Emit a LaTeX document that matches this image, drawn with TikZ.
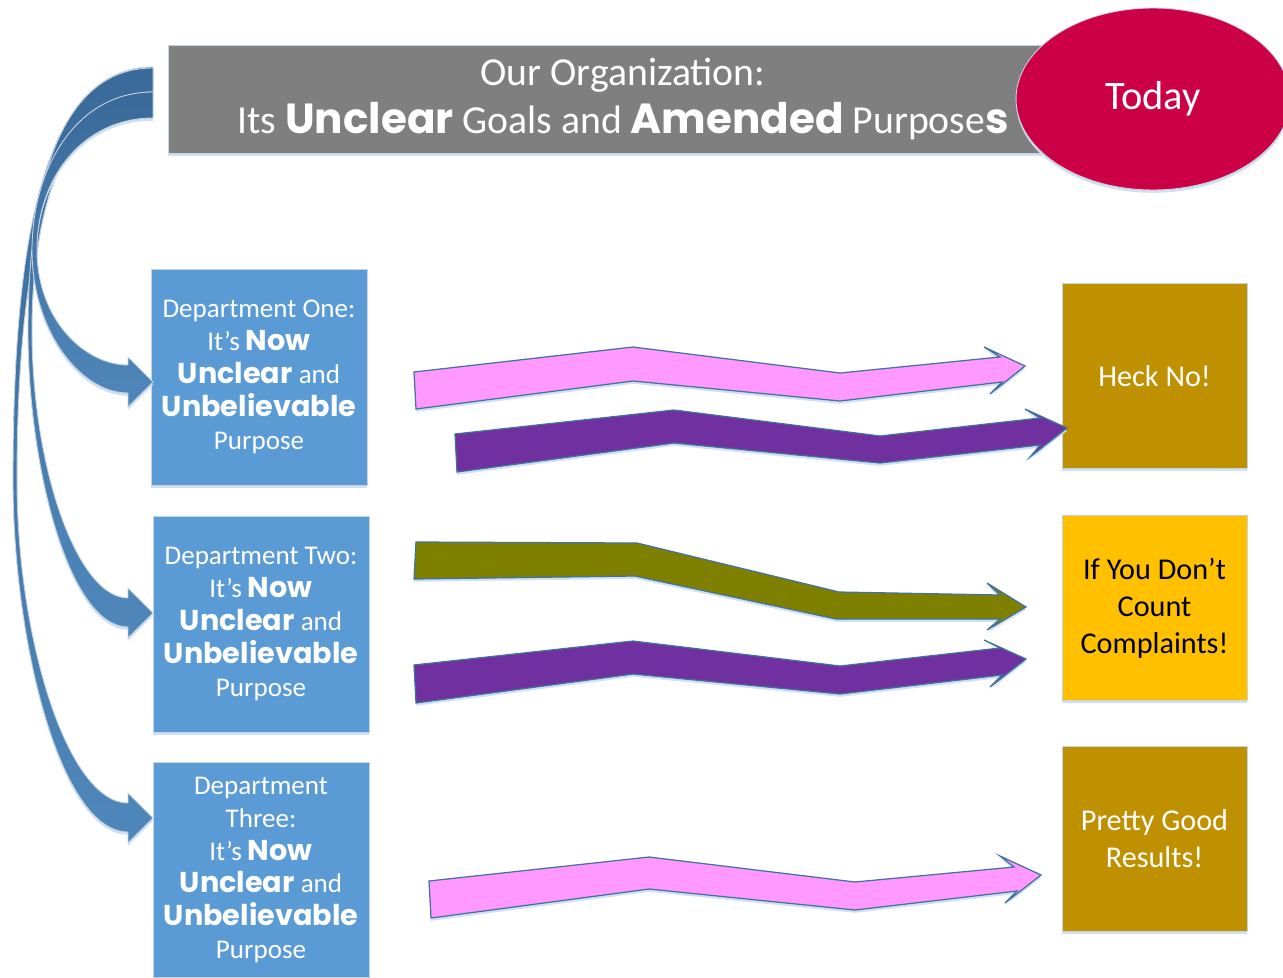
\documentclass[tikz,border=0pt]{standalone}
\usepackage{fontspec}
\setmainfont{Carlito}
\newfontfamily\snapfont{Poppins}[Scale=1.06]
\usetikzlibrary{shapes.geometric, shadows}
\definecolor{cdept}{HTML}{5B9BD5}
\definecolor{cgold}{HTML}{BF9000}
\definecolor{camber}{HTML}{FFC000}
\definecolor{cgrey}{HTML}{7F7F7F}
\definecolor{ccrimson}{HTML}{CC0044}
\definecolor{cpink}{HTML}{FF99FF}
\definecolor{cpurple}{HTML}{7030A0}
\definecolor{colive}{HTML}{808000}
\definecolor{cedge}{HTML}{41719C}
\definecolor{cframe}{HTML}{C5D3E2}
\definecolor{cshadow}{HTML}{CFE0F1}
\definecolor{ccurltop}{HTML}{3A6A99}
\definecolor{ccurlbot}{HTML}{4F87BA}
\newcommand{\fancy}[1]{{\snapfont\bfseries #1}}
\tikzset{
  lift/.style={general shadow={fill=cshadow, shadow yshift=-1.6pt}},
  banner/.style={rectangle, fill=cgrey, draw=cframe, line width=0.5pt, lift, text=white, align=center,
    minimum width=18.2cm, minimum height=2.16cm, inner sep=0pt, font=\fontsize{22.6}{27.2}\selectfont},
  dept/.style={rectangle, fill=cdept, draw=cframe, line width=0.5pt, lift, text=white, align=center,
    minimum width=4.32cm, minimum height=4.32cm, inner sep=0pt, font=\fontsize{15.4}{18.7}\selectfont},
  outcome/.style={rectangle, fill=#1, draw=cframe, line width=0.5pt, lift, text=white, align=center,
    minimum width=3.7cm, minimum height=3.7cm, inner sep=0pt, font=\fontsize{17.2}{21}\selectfont},
  outcome/.default=cgold,
  zig/.style={fill=#1, draw=cedge, line width=0.7pt, line join=miter, lift},
  curl/.style={top color=ccurltop, bottom color=ccurlbot, draw=cframe, line width=0.5pt, lift},
}

\begin{document}
\begin{tikzpicture}[x=0.02cm, y=-0.02cm]
  \useasboundingbox (0,0) rectangle (1283,977);

  % header band and the "today" badge over its right end
  \node[banner] (org) at (623,99) {Our Organization:\\Its \fancy{Unclear} Goals and \fancy{Amended} Purpose\fancy{s}};
  \node[ellipse, fill=ccrimson, draw=cframe, line width=0.5pt, lift, minimum width=5.48cm, minimum height=3.64cm,
    inner sep=0pt, text=white, font=\fontsize{23}{27}\selectfont] (today) at (1153,99) {Today};

  % departments
  \node[dept] (d1) at (259,377) {Department One:\\It’s \fancy{Now}\\\fancy{Unclear} and\\\fancy{Unbelievable}\\Purpose};
  \node[dept] (d2) at (261,624) {Department Two:\\It’s \fancy{Now}\\\fancy{Unclear} and\\\fancy{Unbelievable}\\Purpose};
  \node[dept, minimum height=4.3cm] (d3) at (261,870) {Department\\Three:\\It’s \fancy{Now}\\\fancy{Unclear} and\\\fancy{Unbelievable}\\Purpose};

  % outcomes
  \node[outcome] (heck) at (1154.5,376) {Heck No!};
  \node[outcome=camber, text=black] (count) at (1154.5,608) {If You Don’t\\Count\\Complaints!};
  \node[outcome] (good) at (1154.5,839) {Pretty Good\\Results!};

  % curved block arrows from the header down to each department
  \path[curl] (153,67) .. controls (40,67) and (13,250) .. (13,480) .. controls (13,640) and (60,832) .. (128,832)
    -- (128,843) -- (153,818) -- (128,793) -- (128,803)
    .. controls (68,803) and (17,640) .. (17,480) .. controls (17,260) and (50,92) .. (153,92) -- cycle;
  \path[curl] (153,68) .. controls (55,68) and (28,200) .. (28,330) .. controls (28,470) and (70,627) .. (128,627)
    -- (128,638) -- (153,613) -- (128,588) -- (128,598)
    .. controls (78,598) and (32,470) .. (32,330) .. controls (32,200) and (70,92) .. (153,92) -- cycle;
  \path[curl] (153,92) .. controls (75,92) and (32,170) .. (32,250) .. controls (32,330) and (80,393) .. (128,393)
    -- (128,407) -- (153,382) -- (128,357) -- (128,365)
    .. controls (85,365) and (37,320) .. (37,250) .. controls (37,175) and (85,118) .. (153,118) -- cycle;

  % zigzag arrows towards the outcomes
  \path[zig=cpink] (414,372) -- (633,347) -- (840,373) -- (1000,357) -- (984,347) -- (1025,366)
    -- (990,394) -- (1002,382) -- (840,401) -- (633,381) -- (416,409) -- cycle;
  \path[zig=cpurple] (455,434) -- (674,410) -- (880,436) -- (1040,418) -- (1025,409) -- (1067,428)
    -- (1030,457) -- (1040,445) -- (880,463) -- (674,443) -- (457,472) -- cycle;
  \path[zig=colive] (416,542) -- (637,543) -- (839,592) -- (1000,595) -- (987,583) -- (1026,607)
    -- (987,630) -- (1000,619) -- (836,619) -- (635,576) -- (414,579) -- cycle;
  \path[zig=cpurple] (414,665) -- (633,641) -- (840,666) -- (1000,648) -- (984,640) -- (1026,659)
    -- (990,687) -- (1002,675) -- (840,694) -- (633,674) -- (416,703) -- cycle;
  \path[zig=cpink] (429,881) -- (649,857) -- (855,882) -- (1014,867) -- (1000,856) -- (1041,875)
    -- (1005,903) -- (1017,891) -- (855,910) -- (649,889) -- (431,918) -- cycle;
\end{tikzpicture}
\end{document}
